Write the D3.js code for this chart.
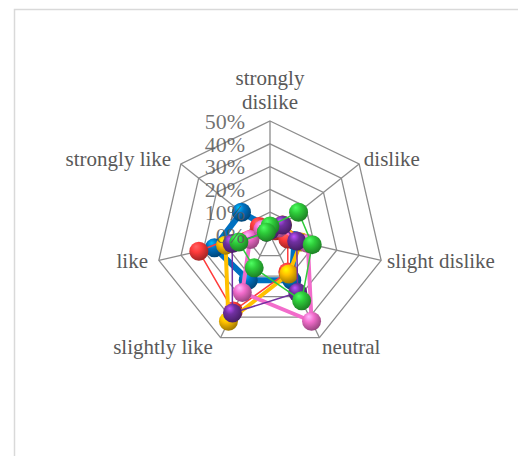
<!DOCTYPE html>
<html>
<head>
<meta charset="utf-8">
<script src="https://cdn.jsdelivr.net/npm/d3@7"></script>
<style>
  body { margin: 0; background: #fff; }
</style>
</head>
<body>
<script type="text/javascript">
    const Width = 518;
    const Height = 456;

    // categories (clockwise from the top)
    const categories = ["strongly dislike", "dislike", "slight dislike", "neutral", "slightly like", "like", "strongly like"];
    const tickValues = [0, 0.1, 0.2, 0.3, 0.4, 0.5];

    // series values
    const blueVals   = [0.03, 0.05, 0.11, 0.22, 0.22, 0.25, 0.16];
    const redVals    = [0.02, 0.03, 0.08, 0.18, 0.37, 0.32, 0.06];
    const yellowVals = [0.02, 0.07, 0.14, 0.19, 0.42, 0.20, 0.03];
    const pinkVals   = [0.02, 0.05, 0.17, 0.42, 0.28, 0.09, 0.04];
    const purpleVals = [0.02, 0.07, 0.12, 0.28, 0.38, 0.17, 0.02];
    const greenVals  = [0.04, 0.16, 0.19, 0.32, 0.16, 0.14, 0.02];

    const series = [
        { name: "blue",   values: blueVals,   color: "#0070C0", width: 6 },
        { name: "red",    values: redVals,    color: "#FF3B3B", width: 1.5 },
        { name: "yellow", values: yellowVals, color: "#FFC000", width: 4 },
        { name: "pink",   values: pinkVals,   color: "#F26CCB", width: 4 },
        { name: "purple", values: purpleVals, color: "#7030A0", width: 1.5 },
        { name: "green",  values: greenVals,  color: "#2ECC3A", width: 1.5 }
    ];

    const cx = 270, cy = 235, R = 114;
    const serif = "'Liberation Serif', 'Times New Roman', serif";

    const svg = d3.select("body")
     .append("svg")
     .attr("width", Width)
     .attr("height", Height)
     .attr("font-family", serif);

    // chart border
    svg.append("rect")
     .attr("x", 14.5).attr("y", 9.5)
     .attr("width", 520).attr("height", 460)
     .attr("fill", "#fff")
     .attr("stroke", "#d9d9d9")
     .attr("stroke-width", 1.5);

    const r = d3.scaleLinear().domain([0, 0.5]).range([0, R]);
    const angle = d3.scalePoint().domain(categories).range([0, 2 * Math.PI * 6 / 7]);

    function pt(cat, v) {
        const a = angle(cat);
        return [cx + Math.sin(a) * r(v), cy - Math.cos(a) * r(v)];
    }

    const g = svg.append("g");

    // web rings
    g.selectAll(".ring")
     .data(tickValues.slice(1))
     .enter()
     .append("polygon")
     .attr("points", function (t) {
         return categories.map(function (c) { return pt(c, t).join(","); }).join(" ");
     })
     .attr("fill", "none")
     .attr("stroke", "#8c8c8c")
     .attr("stroke-width", 1.3);

    // spokes
    g.selectAll(".spoke")
     .data(categories)
     .enter()
     .append("line")
     .attr("x1", cx).attr("y1", cy)
     .attr("x2", function (c) { return pt(c, 0.5)[0]; })
     .attr("y2", function (c) { return pt(c, 0.5)[1]; })
     .attr("stroke", "#8c8c8c")
     .attr("stroke-width", 1.3);

    // category labels
    const lab = g.selectAll(".cat")
     .data(categories)
     .enter()
     .append("text")
     .attr("font-family", serif)
     .attr("font-size", 21)
     .attr("fill", "#595959")
     .attr("x", function (c) {
         const a = angle(c);
         return cx + Math.sin(a) * (R + 6);
     })
     .attr("y", function (c) {
         const a = angle(c);
         return cy - Math.cos(a) * (R + 6);
     })
     .attr("text-anchor", function (c) {
         const s = Math.sin(angle(c));
         return Math.abs(s) < 0.01 ? "middle" : (s > 0 ? "start" : "end");
     })
     .attr("dx", function (c) {
         return Math.sin(angle(c)) < -0.01 ? -5 : 0;
     })
     .attr("dy", function (c) {
         const co = Math.cos(angle(c));
         if (co > 0.99) return "-1.45em";
         if (co < -0.5) return "0.5em";
         return "0.3em";
     });

    lab.each(function (c) {
        const t = d3.select(this);
        if (c === "strongly dislike") {
            t.append("tspan").text("strongly");
            t.append("tspan").attr("x", cx).attr("dy", "1.15em").text("dislike");
        } else {
            t.text(c);
        }
    });

    // sphere gradients
    const defs = svg.append("defs");
    series.forEach(function (s) {
        const grad = defs.append("radialGradient")
         .attr("id", "ball-" + s.name)
         .attr("cx", "40%").attr("cy", "35%").attr("r", "68%")
         .attr("fx", "35%").attr("fy", "25%");
        grad.append("stop").attr("offset", "0%").attr("stop-color", d3.color(s.color).brighter(1.5));
        grad.append("stop").attr("offset", "40%").attr("stop-color", s.color);
        grad.append("stop").attr("offset", "100%").attr("stop-color", d3.color(s.color).darker(1.4));
    });

    const line = d3.lineRadial()
     .angle(function (d, i) { return angle(categories[i]); })
     .radius(function (d) { return r(d); })
     .curve(d3.curveLinearClosed);

    const sg = g.selectAll(".series")
     .data(series)
     .enter()
     .append("g")
     .attr("transform", "translate(" + cx + "," + cy + ")");

    sg.append("path")
     .attr("d", function (s) { return line(s.values); })
     .attr("fill", "none")
     .attr("stroke", function (s) { return s.color; })
     .attr("stroke-width", function (s) { return s.width; })
     .attr("stroke-linejoin", "round");

    sg.selectAll("circle")
     .data(function (s) { return s.values.map(function (v, i) { return { s: s, v: v, i: i }; }); })
     .enter()
     .append("circle")
     .attr("cx", function (d) { return Math.sin(angle(categories[d.i])) * r(d.v); })
     .attr("cy", function (d) { return -Math.cos(angle(categories[d.i])) * r(d.v); })
     .attr("r", 9.5)
     .attr("fill", function (d) { return "url(#ball-" + d.s.name + ")"; });

    // value axis labels
    g.selectAll(".tick")
     .data(tickValues)
     .enter()
     .append("text")
     .attr("x", 245)
     .attr("y", function (t) { return cy - r(t); })
     .attr("dy", "0.35em")
     .attr("text-anchor", "end")
     .attr("font-size", 22)
     .attr("fill", "#595959")
     .attr("fill-opacity", 0.85)
     .text(d3.format(".0%"));
</script>
</body>
</html>
